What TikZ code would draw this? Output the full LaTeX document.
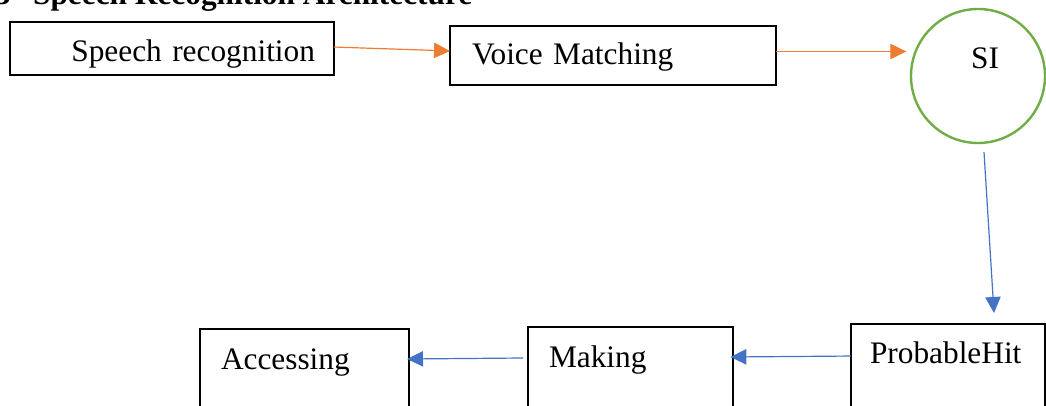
\documentclass[tikz,border=0pt]{standalone}
\usepackage{fontspec}
\setmainfont{Liberation Serif}
\usetikzlibrary{arrows.meta}
\definecolor{wordorange}{HTML}{ED7D31}
\definecolor{wordblue}{HTML}{4472C4}
\definecolor{wordgreen}{HTML}{70AD47}
\tikzset{
  stage/.style={draw, line width=1pt, inner ysep=0pt, outer sep=0pt, anchor=north west},
  flow/.style={-{Triangle[length=12pt,width=11.5pt]}, line width=0.9pt}
}
\begin{document}
\begin{tikzpicture}[x=0.75pt,y=-0.75pt,font=\fontsize{23.5}{28}\selectfont]
\useasboundingbox (0,0) rectangle (1046,406);
\clip (0,0) rectangle (1046,406);
\node[anchor=base west, inner sep=0pt, font=\fontsize{23.5}{28}\selectfont\bfseries] (title) at (-29,5) {3.3\hspace{17pt}Speech Recognition Architecture};
\node[stage, inner xsep=14.25pt, text width=214.5pt, align=right, text height=30pt, text depth=9.75pt] (sr) at (10,22) {Speech recognition};
\node[stage, inner xsep=16.5pt, text width=211.5pt, align=left, text height=29.25pt, text depth=15pt] (vm) at (450,26) {Voice Matching};
\node[circle, draw=wordgreen, line width=1.8pt, minimum size=100.5pt, inner sep=0pt, outer sep=0pt, text width=31.5pt, align=right, text height=16pt, text depth=26.5pt] (si) at (978,76) {SI};
\node[stage, inner xsep=14.25pt, text width=117pt, align=left, text height=29.25pt, text depth=45pt] (ph) at (851,324) {ProbableHit};
\node[stage, inner xsep=15.75pt, text width=122.25pt, align=left, text height=30pt, text depth=45pt] (mk) at (528,327) {Making};
\node[stage, inner xsep=15.75pt, text width=125.25pt, align=left, text height=30pt, text depth=45pt] (acc) at (200,329) {Accessing};
\coordinate (vmout) at ([yshift=3pt]vm.east);
\draw[flow, wordorange] ([yshift=1.1pt]sr.east) -- ([yshift=3.4pt]vm.west);
\draw[flow, wordorange, shorten >=3.5pt] (vmout) -- (vmout -| si.west);
\draw[flow, wordblue] ([xshift=4.5pt,yshift=-6.75pt]si.south) -- ([xshift=34.5pt,yshift=8.25pt]ph.north);
\draw[flow, wordblue] ([yshift=13.1pt]ph.west) -- ([xshift=-2pt,yshift=15pt]mk.east);
\draw[flow, wordblue] ([xshift=-3.75pt,yshift=14.25pt]mk.west) -- ([xshift=-1.5pt,yshift=15pt]acc.east);
\end{tikzpicture}
\end{document}
